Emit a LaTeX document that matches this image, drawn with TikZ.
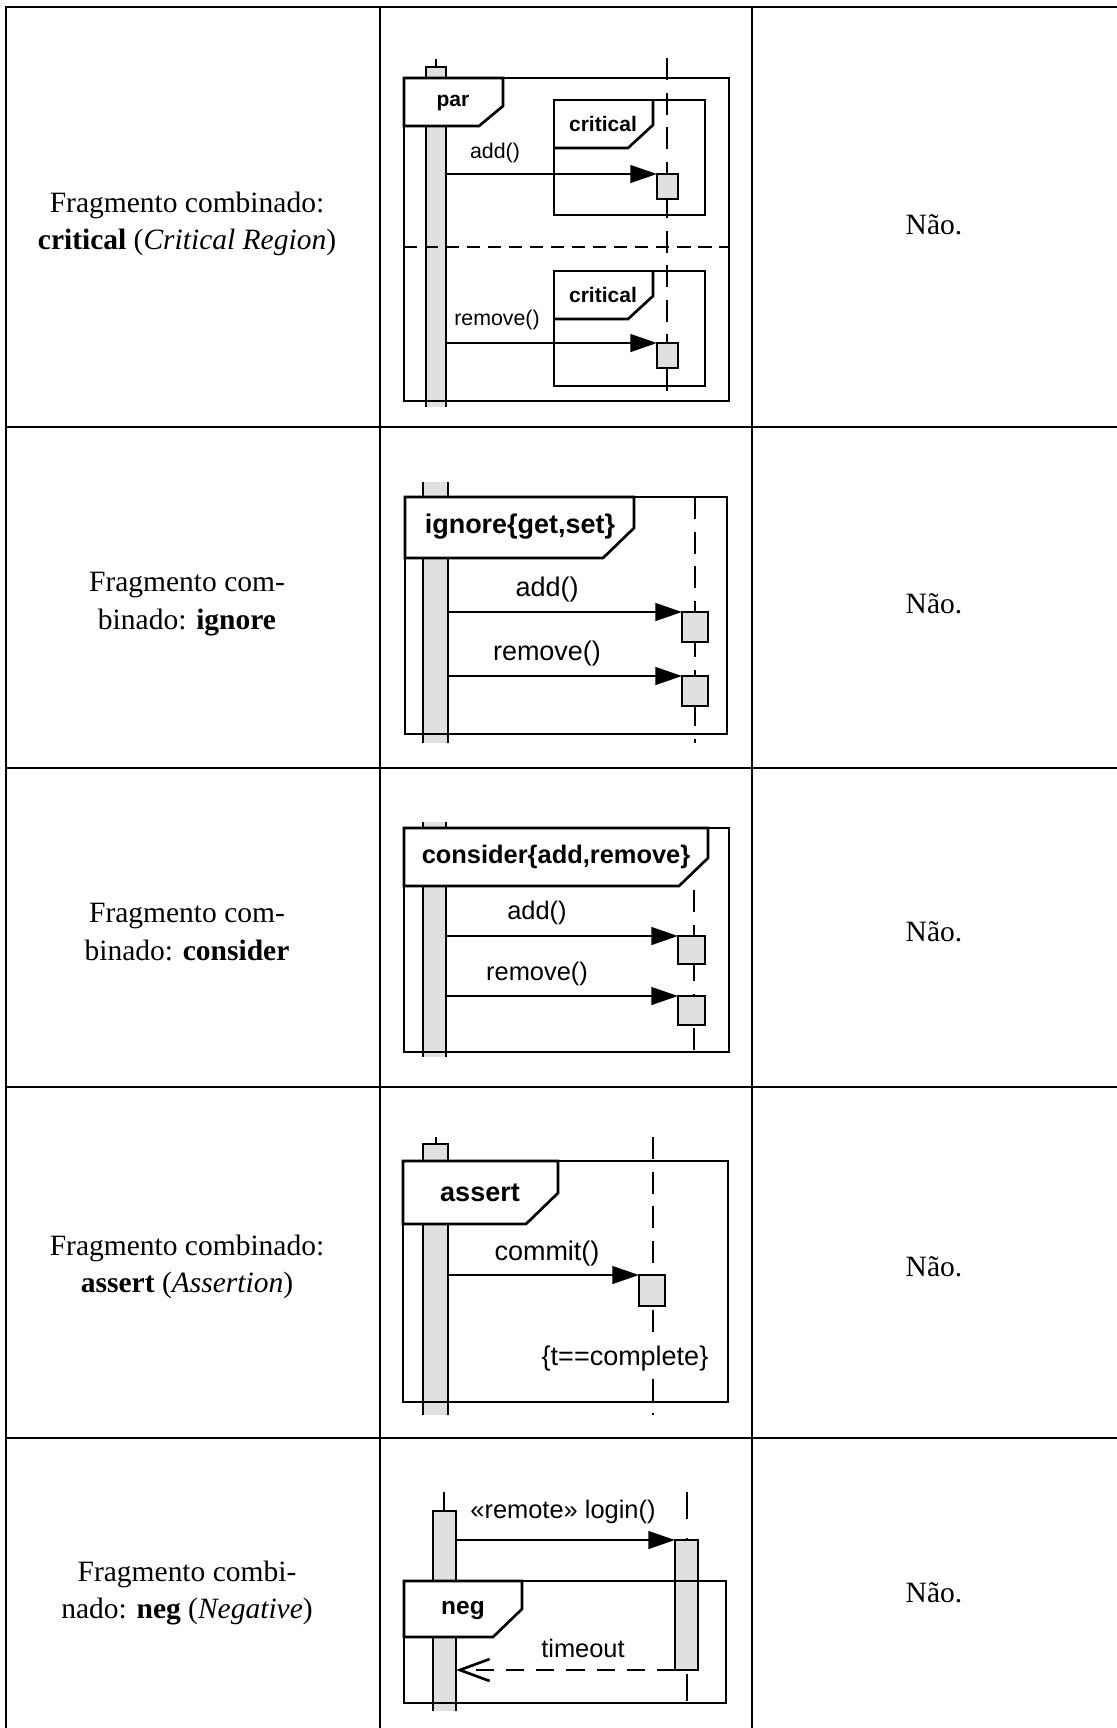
\documentclass[tikz,border=0pt]{standalone}
\usepackage{fontspec}
\setmainfont{Liberation Serif}
\setsansfont{Liberation Sans}
\usetikzlibrary{arrows.meta}
\definecolor{actgray}{gray}{0.88}

\begin{document}
\begin{tikzpicture}[x=0.0112cm, y=-0.0112cm, line width=.85pt,
		cell/.style={align=center, font=\fontsize{9.4}{12}\selectfont},
		lbl/.style={font=\sffamily\fontsize{#1}{10}\selectfont, inner sep=1pt},
		lbl/.default=8.6,
		tab/.style={font=\sffamily\bfseries\fontsize{#1}{10}\selectfont, inner sep=1pt},
		tab/.default=8.6,
		msg/.style={-{Triangle[length=8.5pt, width=5.6pt]}},
		reply/.style={dash pattern=on 5.8pt off 3.8pt, -{Straight Barb[length=9.5pt, width=7pt]}},
		life/.style={dash pattern=on 7pt off 4pt},
		sep/.style={dash pattern=on 4.2pt off 2.5pt},
		act/.style={draw, fill=actgray}]
				\useasboundingbox (0,0) rectangle (1117,1728);
				% table
				\begin{scope}[line width=.5pt]
					\draw (6,1728) -- (6,7) -- (1117,7);
					\foreach \x in {380,752} \draw (\x,7) -- (\x,1728);
					\foreach \y in {427,768,1087,1438} \draw (6,\y) -- (1117,\y);
				\end{scope}
				\node[cell] (c1) at (187,224) {Fragmento combinado:\\\textbf{critical} (\textit{Critical Region})};
				\node[cell] (c2) at (187,604) {Fragmento com-\\binado: \textbf{ignore}};
				\node[cell] (c3) at (187,932) {Fragmento com-\\binado: \textbf{consider}};
				\node[cell] (c4) at (187,1267) {Fragmento combinado:\\\textbf{assert} (\textit{Assertion})};
				\node[cell] (c5) at (187,1593) {Fragmento combi-\\nado: \textbf{neg} (\textit{Negative})};
				\foreach \y [count=\i] in {225,604,932,1267,1593}
					\node[cell] (n\i) at (934,\y) {Não.};
				% par + critical
				\draw (436,59) -- (436,67);
				\fill[actgray] (426,67) rectangle (446,407);
				\draw (426,407) -- (426,67) -- (446,67) -- (446,407);
				\draw[life] (667,58) -- (667,397);
				\draw (404,78) rectangle (729,401);
				\draw[fill=white] (404,78) -- (503,78) -- (503,106) -- (479,126) -- (404,126) -- cycle;
				\node[tab=6.7] (par) at (453,103) {par};
				\draw[sep] (404,247) -- (729,247);
				\foreach \t in {0,171} {
					\draw (554,100+\t) rectangle (705,215+\t);
					\draw (554,148+\t) -- (628,148+\t) -- (653,125+\t) -- (653,100+\t);
					\node[tab=6.7] (crit\t) at (603,124+\t) {critical};
				}
				\coordinate (a1) at (446,174);
				\coordinate (b1) at (657,174);
				\coordinate (a2) at (446,343);
				\coordinate (b2) at (657,343);
				\draw[act] (b1) rectangle (678,199);
				\draw[act] (b2) rectangle (678,368);
				\draw[msg] (a1) -- (b1);
				\draw[msg] (a2) -- (b2);
				\node[lbl=6.8] (add1) at (495,153) {add()};
				\node[lbl=6.8] (rem1) at (497,320) {remove()};
				% ignore
				\fill[actgray] (423,482) rectangle (448,743);
				\draw (423,482) -- (423,743);
				\draw (448,482) -- (448,743);
				\draw[life] (695,497) -- (695,743);
				\draw (405,497) rectangle (727,734);
				\draw[fill=white] (405,497) -- (634,497) -- (634,528) -- (603,558) -- (405,558) -- cycle;
				\node[tab] (ign) at (520,527) {ignore\{get,set\}};
				\coordinate (a3) at (448,612);
				\coordinate (b3) at (682,612);
				\coordinate (a4) at (448,676);
				\coordinate (b4) at (682,676);
				\draw[act] (b3) rectangle (708,642);
				\draw[act] (b4) rectangle (708,706);
				\draw[msg] (a3) -- (b3);
				\draw[msg] (a4) -- (b4);
				\node[lbl] (add2) at (547,589) {add()};
				\node[lbl] (rem2) at (547,653) {remove()};
				% consider
				\fill[actgray] (423,822) rectangle (446,1057);
				\draw (423,822) -- (423,1057);
				\draw (446,822) -- (446,1057);
				\draw[life] (694,890) -- (694,1057);
				\draw (404,828) rectangle (729,1052);
				\draw[fill=white] (404,828) -- (708,828) -- (708,858) -- (679,886) -- (404,886) -- cycle;
				\node[tab=8.1] (cons) at (556,857) {consider\{add,remove\}};
				\coordinate (a5) at (446,936);
				\coordinate (b5) at (678,936);
				\coordinate (a6) at (446,996);
				\coordinate (b6) at (678,996);
				\draw[act] (b5) rectangle (705,964);
				\draw[act] (b6) rectangle (705,1025);
				\draw[msg] (a5) -- (b5);
				\draw[msg] (a6) -- (b6);
				\node[lbl=8.1] (add3) at (537,913) {add()};
				\node[lbl=8.1] (rem3) at (537,974) {remove()};
				% assert
				\draw (436,1137) -- (436,1144);
				\fill[actgray] (423,1144) rectangle (448,1415);
				\draw (423,1415) -- (423,1144) -- (448,1144) -- (448,1415);
				\draw[life] (653,1137) -- (653,1415);
				\draw (403,1161) rectangle (728,1402);
				\draw[fill=white] (403,1161) -- (558,1161) -- (558,1193) -- (526,1224) -- (403,1224) -- cycle;
				\node[tab] (asrt) at (480,1193) {assert};
				\coordinate (a7) at (448,1275);
				\coordinate (b7) at (639,1275);
				\draw[act] (b7) rectangle (665,1306);
				\draw[msg] (a7) -- (b7);
				\node[lbl] (cmt) at (547,1253) {commit()};
				\node[lbl, fill=white] (cond) at (625,1359) {\{t==complete\}};
				% neg
				\draw (444,1492) -- (444,1511);
				\fill[actgray] (433,1511) rectangle (456,1711);
				\draw (433,1711) -- (433,1511) -- (456,1511) -- (456,1711);
				\draw[life, dash pattern=on 8.5pt off 6pt] (687,1492) -- (687,1711);
				\coordinate (a8) at (456,1540);
				\coordinate (b8) at (675,1540);
				\coordinate (a9) at (456,1670);
				\coordinate (b9) at (675,1670);
				\draw[act] (b8) rectangle (698,1670);
				\draw (404,1581) rectangle (726,1703);
				\draw[fill=white] (404,1581) -- (522,1581) -- (522,1609) -- (493,1637) -- (404,1637) -- cycle;
				\node[tab=7.8] (neg) at (463,1610) {neg};
				\draw[msg] (a8) -- (b8);
				\draw[reply] (b9) -- (a9);
				\node[lbl=8.1] (login) at (563,1512) {«remote» login()};
				\node[lbl=8.1] (tmo) at (583,1648) {timeout};
\end{tikzpicture}
\end{document}
